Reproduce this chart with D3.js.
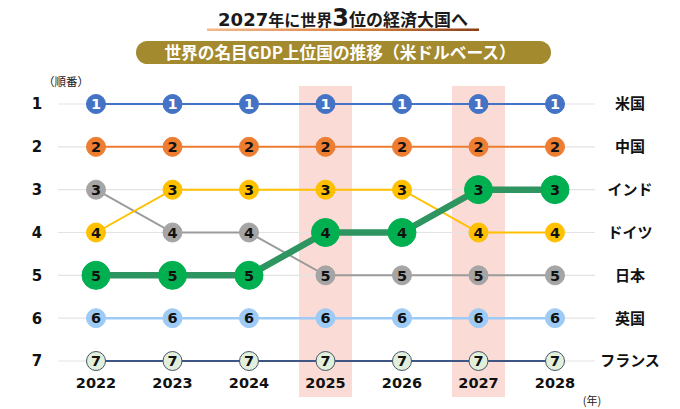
<!DOCTYPE html>
<html><head><meta charset="utf-8">
<script src="https://cdn.jsdelivr.net/npm/d3@7/dist/d3.min.js"></script>
<style>body{margin:0;background:#fff}svg{display:block}</style>
</head><body>
<script>
const years = [2022, 2023, 2024, 2025, 2026, 2027, 2028];
const rankTicks = [1, 2, 3, 4, 5, 6, 7];
const highlightYears = [2025, 2027];
const countries = ["米国", "中国", "インド", "ドイツ", "日本", "英国", "フランス"];
const labelRanks = [1, 2, 3, 4, 5, 6, 7];
const usRanks = [1, 1, 1, 1, 1, 1, 1];
const chinaRanks = [2, 2, 2, 2, 2, 2, 2];
const indiaRanks = [5, 5, 5, 4, 4, 3, 3];
const germanyRanks = [4, 3, 3, 3, 3, 4, 4];
const japanRanks = [3, 4, 4, 5, 5, 5, 5];
const ukRanks = [6, 6, 6, 6, 6, 6, 6];
const franceRanks = [7, 7, 7, 7, 7, 7, 7];

const W = 680, H = 409;
const svg = d3.select("body").append("svg").attr("width", W).attr("height", H);
const x = d3.scalePoint().domain(years).range([96, 555]);
const y = d3.scalePoint().domain(rankTicks).range([104, 361]);
const CJK = "'Noto Sans CJK JP', sans-serif";
const NUM = "'DejaVu Sans', Verdana, sans-serif";

// title
const defs = svg.append("defs");
const grad = defs.append("linearGradient").attr("id", "ul");
grad.append("stop").attr("offset", "0%").attr("stop-color", "#F6B98A");
grad.append("stop").attr("offset", "55%").attr("stop-color", "#D9823E");
grad.append("stop").attr("offset", "100%").attr("stop-color", "#8A3E16");
svg.append("rect").attr("x", 207).attr("y", 28.5).attr("width", 272).attr("height", 2.5).attr("fill", "url(#ul)");
const t = svg.append("text").attr("x", 343).attr("y", 26).attr("text-anchor", "middle")
  .attr("font-family", CJK).attr("font-weight", 700).attr("fill", "#1a1a1a");
t.append("tspan").attr("font-size", 18).attr("font-family", NUM).text("2027");
t.append("tspan").attr("font-size", 16).text("年に世界");
t.append("tspan").attr("font-size", 24).attr("font-family", NUM).text("3");
t.append("tspan").attr("font-size", 17).text("位の経済大国へ");

svg.append("rect").attr("x", 136).attr("y", 41).attr("width", 415).attr("height", 23).attr("rx", 11.5).attr("fill", "#A38A2E");
svg.append("text").attr("x", 340).attr("y", 58.5).attr("text-anchor", "middle")
  .attr("font-family", CJK).attr("font-weight", 700).attr("font-size", 16.7).attr("fill", "#fff")
  .text("世界の名目GDP上位国の推移（米ドルベース）");

// highlight bands
svg.selectAll("rect.band").data(highlightYears).join("rect").attr("class", "band")
  .attr("x", d => x(d) - 26.5).attr("y", 86).attr("width", 53).attr("height", 311).attr("fill", "#FADBD5");

// grid
svg.selectAll("line.grid").data(rankTicks).join("line").attr("class", "grid")
  .attr("x1", 58).attr("x2", 595).attr("y1", d => y(d)).attr("y2", d => y(d))
  .attr("stroke", "#E3E3E3").attr("stroke-width", 1.2);

// axis labels
svg.append("text").attr("x", 66).attr("y", 86).attr("text-anchor", "middle")
  .attr("font-family", CJK).attr("font-size", 11.5).attr("fill", "#222").text("（順番）");
svg.selectAll("text.rank").data(rankTicks).join("text").attr("class", "rank")
  .attr("x", 37).attr("y", d => y(d)).attr("dy", "0.36em").attr("text-anchor", "middle")
  .attr("font-family", NUM).attr("font-weight", 700).attr("font-size", 15).attr("fill", "#111").text(d => d);
svg.selectAll("text.year").data(years).join("text").attr("class", "year")
  .attr("x", d => x(d)).attr("y", 388).attr("text-anchor", "middle")
  .attr("font-family", NUM).attr("font-weight", 700).attr("font-size", 14.5).attr("fill", "#111").text(d => d);
svg.append("text").attr("x", 592).attr("y", 405).attr("text-anchor", "middle")
  .attr("font-family", CJK).attr("font-size", 11).attr("fill", "#222").text("(年)");
svg.selectAll("text.country").data(countries).join("text").attr("class", "country")
  .attr("x", 630).attr("y", (d, i) => y(labelRanks[i])).attr("dy", "0.36em").attr("text-anchor", "middle")
  .attr("font-family", CJK).attr("font-weight", 700).attr("font-size", 15).attr("fill", "#111").text(d => d);

const series = [
  { ranks: japanRanks, line: "#9B9B9B", fill: "#A5A5A5", stroke: "#A5A5A5", text: "#111", lw: 2, r: 9.5 },
  { ranks: germanyRanks, line: "#FFC000", fill: "#FFC000", stroke: "#FFC000", text: "#111", lw: 2, r: 9.5 },
  { ranks: usRanks, line: "#4472C4", fill: "#4472C4", stroke: "#4472C4", text: "#fff", lw: 2, r: 9.5 },
  { ranks: chinaRanks, line: "#ED7D31", fill: "#ED7D31", stroke: "#ED7D31", text: "#111", lw: 2, r: 9.5 },
  { ranks: ukRanks, line: "#9DCBF5", fill: "#9DCBF5", stroke: "#9DCBF5", text: "#111", lw: 2.5, r: 9.5 },
  { ranks: franceRanks, line: "#3F5584", fill: "#E2EFDA", stroke: "#44546A", text: "#111", lw: 2, r: 9.5 },
  { ranks: indiaRanks, line: "#2E9460", fill: "#00B050", stroke: "#00B050", text: "#111", lw: 6.5, r: 14 }
];
const line = d3.line().x((d, i) => x(years[i])).y(d => y(d));
series.forEach(s => {
  svg.append("path").attr("d", line(s.ranks)).attr("fill", "none").attr("stroke", s.line).attr("stroke-width", s.lw);
});
series.forEach(s => {
  const g = svg.append("g");
  g.selectAll("circle").data(s.ranks).join("circle")
    .attr("cx", (d, i) => x(years[i])).attr("cy", d => y(d)).attr("r", s.r)
    .attr("fill", s.fill).attr("stroke", s.stroke).attr("stroke-width", 1);
  g.selectAll("text").data(s.ranks).join("text")
    .attr("x", (d, i) => x(years[i])).attr("y", d => y(d)).attr("dy", "0.36em").attr("text-anchor", "middle")
    .attr("font-family", NUM).attr("font-weight", 700).attr("font-size", 14.5).attr("fill", s.text).text(d => d);
});
</script>
</body></html>
